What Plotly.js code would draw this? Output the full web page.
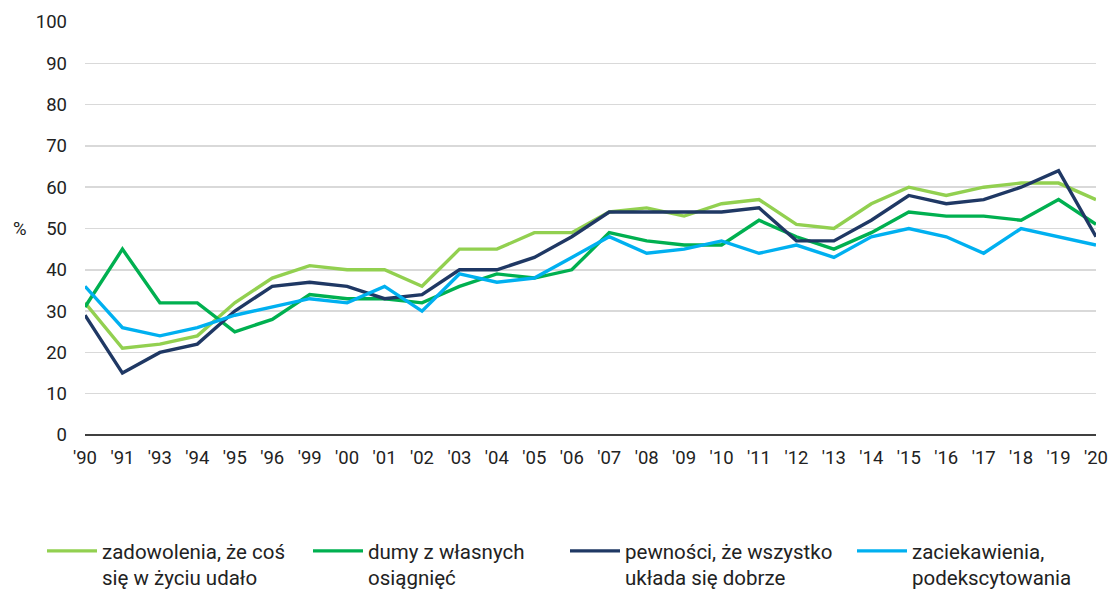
<!DOCTYPE html>
<html>
<head>
<meta charset="utf-8">
<script src="https://cdn.plot.ly/plotly-3.0.1.min.js"></script>
<style>html,body{margin:0;padding:0;background:#fff;}#chart{width:1110px;height:591px;}</style>
</head>
<body>
<div id="chart"></div>
<script>
var years = ["'90","'91","'93","'94","'95","'96","'99","'00","'01","'02","'03","'04","'05","'06","'07","'08","'09","'10","'11","'12","'13","'14","'15","'16","'17","'18","'19","'20"];
var zadowolenia = [32,21,22,24,32,38,41,40,40,36,45,45,49,49,54,55,53,56,57,51,50,56,60,58,60,61,61,57];
var dumy = [31,45,32,32,25,28,34,33,33,32,36,39,38,40,49,47,46,46,52,48,45,49,54,53,53,52,57,51];
var pewnosci = [29,15,20,22,30,36,37,36,33,34,40,40,43,48,54,54,54,54,55,47,47,52,58,56,57,60,64,48];
var zaciekawienia = [36,26,24,26,29,31,33,32,36,30,39,37,38,43,48,44,45,47,44,46,43,48,50,48,44,50,48,46];
var seriesNames = ["zadowolenia, że coś<br>się w życiu udało","dumy z własnych<br>osiągnięć","pewności, że wszystko<br>układa się dobrze","zaciekawienia,<br>podekscytowania"];
var yTicks = [0,10,20,30,40,50,60,70,80,90,100];

var colors = ["#92D050","#00B050","#1F3864","#00B0F0"];
var dataSets = [zadowolenia, dumy, pewnosci, zaciekawienia];
var legendIds = ["legend","legend2","legend3","legend4"];
var legendPx = [42, 308, 565, 852];
var L = 85, R = 14, W = 1110;
var plotW = W - L - R;

var traces = dataSets.map(function(d, i){
  return {
    x: years, y: d, type: 'scatter', mode: 'lines', name: seriesNames[i],
    line: {color: colors[i], width: 3.4},
    legend: legendIds[i], hoverinfo: 'x+y'
  };
});

var tickFont = {family: 'Roboto, Arial, sans-serif', size: 18.5, color: '#222'};
var legFont = {family: 'Roboto, Arial, sans-serif', size: 20.5, color: '#222'};
var layout = {
  width: 1110, height: 591,
  margin: {l: L, r: R, t: 22, b: 156},
  paper_bgcolor: '#fff', plot_bgcolor: '#fff',
  font: tickFont,
  showlegend: true,
  xaxis: {
    type: 'category', range: [0, years.length - 1],
    showgrid: false, zeroline: false,
    showline: false, ticks: '', tickfont: tickFont,
    ticklabelstandoff: 9
  },
  yaxis: {
    range: [0, 100], tickvals: yTicks, ticktext: yTicks.map(String),
    showgrid: true, gridcolor: '#d9d9d9', gridwidth: 1.5,
    zeroline: true, zerolinecolor: '#404040', zerolinewidth: 1.5,
    showline: false, ticks: '', ticklabelstandoff: 17,
    tickfont: tickFont
  },
  annotations: [{
    text: '%', xref: 'paper', yref: 'y', x: -0.064, y: 50, xanchor: 'center', yanchor: 'middle',
    showarrow: false, font: tickFont
  }]
};
legendIds.forEach(function(id, i){
  layout[id] = {
    x: (legendPx[i] - L) / plotW, xref: 'paper', xanchor: 'left',
    y: (591 - 531) / 591, yref: 'container', yanchor: 'top',
    orientation: 'h', bgcolor: 'rgba(0,0,0,0)', borderwidth: 0,
    font: legFont, itemwidth: 50, tracegroupgap: 0, itemclick: false,
    valign: 'top'
  };
});

Plotly.newPlot('chart', traces, layout, {displayModeBar: false, staticPlot: true});
</script>
</body>
</html>
